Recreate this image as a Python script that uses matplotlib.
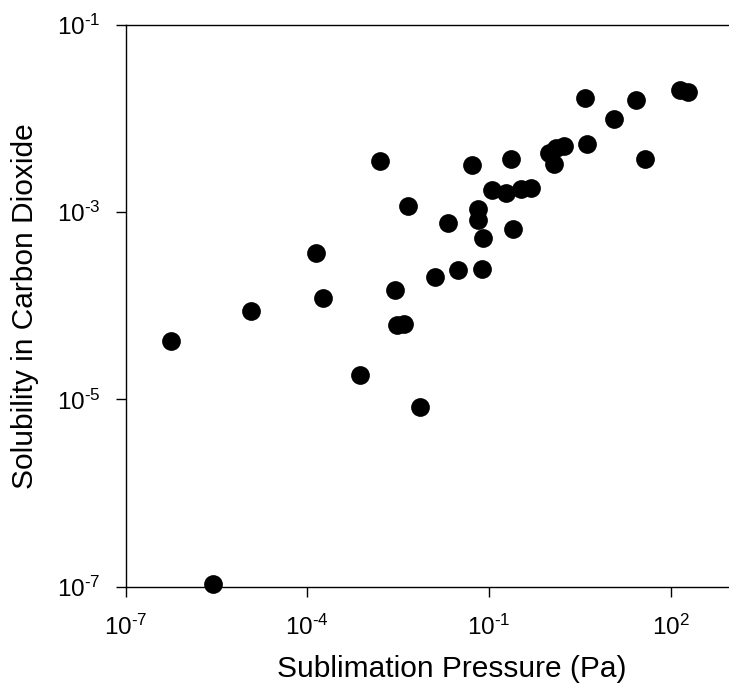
import numpy as np
import matplotlib
matplotlib.use("Agg")
import matplotlib.pyplot as plt

plt.rcParams['font.family'] = ['Liberation Sans', 'DejaVu Sans']
plt.rcParams['mathtext.fontset'] = 'custom'
plt.rcParams['mathtext.rm'] = 'Liberation Sans'
plt.rcParams['mathtext.it'] = 'Liberation Sans:italic'
plt.rcParams['mathtext.bf'] = 'Liberation Sans:bold'

# sublimation pressure (Pa) and solubility (mole fraction) of each compound
pressure = [5.65e-7, 2.82e-6, 1.16e-5, 1.40e-4, 1.79e-4, 7.52e-4, 1.58e-3,
            2.78e-3, 2.98e-3, 3.88e-3, 4.63e-3, 7.21e-3, 1.29e-2, 2.12e-2,
            3.13e-2, 5.31e-2, 6.68e-2, 6.56e-2, 7.98e-2, 7.57e-2, 0.110,
            0.193, 0.230, 0.252, 0.333, 0.484, 0.964, 1.17, 1.26, 1.73,
            3.83, 4.10, 11.4, 26.2, 37.3, 141.0, 193.0]
solubility = [4.16e-5, 1.08e-7, 8.71e-5, 3.69e-4, 1.20e-4, 1.80e-5, 3.47e-3,
              1.46e-4, 6.24e-5, 6.31e-5, 1.15e-3, 8.24e-6, 2.03e-4, 7.73e-4,
              2.38e-4, 3.21e-3, 1.07e-3, 8.17e-4, 5.26e-4, 2.46e-4, 1.71e-3,
              1.60e-3, 3.73e-3, 6.52e-4, 1.78e-3, 1.80e-3, 4.30e-3, 3.28e-3,
              4.83e-3, 5.04e-3, 1.67e-2, 5.32e-3, 9.79e-3, 1.57e-2, 3.73e-3,
              2.03e-2, 1.90e-2]

xticks = [1e-7, 1e-4, 1e-1, 1e2]
xticklabels = ['$10^{\\text{-7}}$', '$10^{\\text{-4}}$', '$10^{\\text{-1}}$', '$10^{2}$']
yticks = [1e-7, 1e-5, 1e-3, 1e-1]
yticklabels = ['$10^{\\text{-7}}$', '$10^{\\text{-5}}$', '$10^{\\text{-3}}$', '$10^{\\text{-1}}$']

fig = plt.figure(figsize=(7.29, 6.83), dpi=100)
ax = fig.add_axes([125.5 / 729, 96.3 / 683, (731.4 - 125.5) / 729, (586.7 - 24.8) / 683])

ax.plot(pressure, solubility, 'o', color='black', markersize=13.5,
        markeredgewidth=0, clip_on=False)

ax.set_xscale('log')
ax.set_yscale('log')
ax.set_xlim(1e-7, 1e3)
ax.set_ylim(1e-7, 1e-1)

ax.set_xticks(xticks)
ax.set_xticklabels(xticklabels)
ax.set_yticks(yticks)
ax.set_yticklabels(yticklabels)
ax.minorticks_off()
ax.tick_params(axis='both', which='major', direction='out', length=7.2,
               width=1, labelsize=17.5, color='black')
ax.tick_params(axis='x', pad=13)
ax.tick_params(axis='y', pad=10.5)

for side in ['left', 'bottom', 'top']:
    ax.spines[side].set_linewidth(1)
    ax.spines[side].set_color('black')
ax.spines['right'].set_visible(False)

ax.set_xlabel('Sublimation Pressure (Pa)', fontsize=21.5, va='baseline')
ax.set_ylabel('Solubility in Carbon Dioxide', fontsize=21.5, va='baseline')
ax.xaxis.set_label_coords(0.539, -0.160)
ax.yaxis.set_label_coords(-0.152, 0.5)

fig.savefig('out.png', dpi=100)
